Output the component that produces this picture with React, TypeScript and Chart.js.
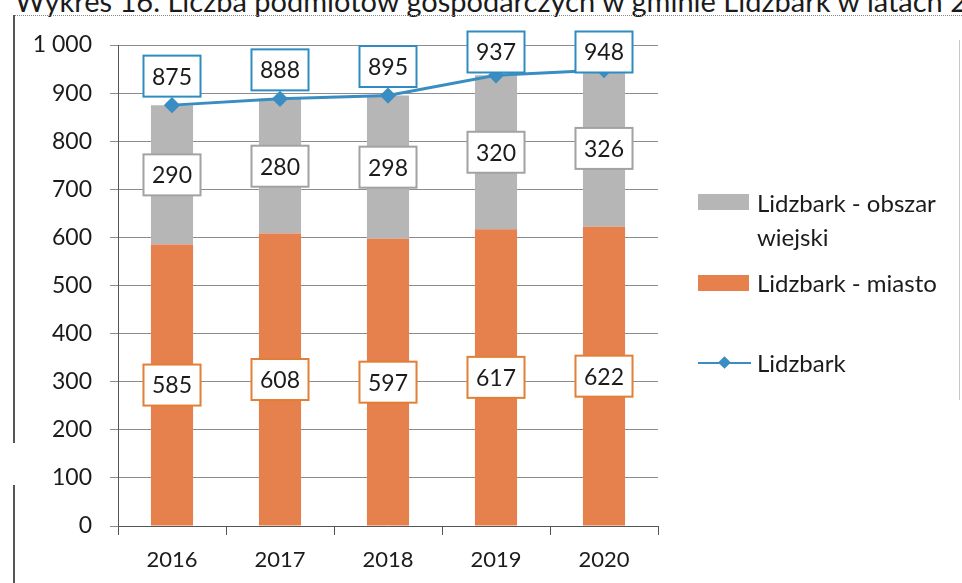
import React, { useEffect, useRef } from 'react';
import { Chart, registerables } from 'chart.js';

Chart.register(...registerables);

const years = ['2016', '2017', '2018', '2019', '2020'];
const miasto = [585, 608, 597, 617, 622];
const wiejski = [290, 280, 298, 320, 326];
const total = [875, 888, 895, 937, 948];

const nameWiejski = 'Lidzbark - obszar wiejski';
const nameMiasto = 'Lidzbark - miasto';
const nameTotal = 'Lidzbark';
const titleText = 'Wykres 16. Liczba podmiotów gospodarczych w gminie Lidzbark w latach 2016-2020';

const ORANGE = '#E6804C';
const GRAY = '#B6B6B6';
const BLUE = '#3A8DC2';
const FONT = 'Lato, "Open Sans", sans-serif';

const fmt = (v: number) => {
  const s = String(Math.round(v));
  return s.replace(/\B(?=(\d{3})+(?!\d))/g, ' ');
};

const boxLabels = {
  id: 'boxLabels',
  afterDatasetsDraw(chart: any) {
    const ctx = chart.ctx;
    ctx.save();
    ctx.font = `23px ${FONT}`;
    ctx.textAlign = 'center';
    ctx.textBaseline = 'middle';
    chart.data.datasets.forEach((ds: any, di: number) => {
      const meta = chart.getDatasetMeta(di);
      meta.data.forEach((el: any, i: number) => {
        const text = fmt(ds.data[i]);
        const cx = el.x;
        let cy: number;
        if (meta.type === 'bar') cy = (el.y + el.base) / 2;
        else cy = Math.max(el.y - 29, chart.chartArea.top + 7);
        const w = ctx.measureText(text).width + 17;
        const h = 41;
        ctx.fillStyle = '#ffffff';
        ctx.fillRect(cx - w / 2, cy - h / 2, w, h);
        ctx.strokeStyle = ds.labelBorder;
        ctx.lineWidth = 2;
        ctx.strokeRect(cx - w / 2, cy - h / 2, w, h);
        ctx.fillStyle = '#1b1b1b';
        ctx.fillText(text, cx, cy + 1);
      });
    });
    ctx.restore();
  },
};

export default function App() {
  const ref = useRef<HTMLCanvasElement | null>(null);

  useEffect(() => {
    if (!ref.current) return;
    const chart = new Chart(ref.current, {
      type: 'bar',
      data: {
        labels: years,
        datasets: [
          {
            type: 'line',
            label: nameTotal,
            data: total,
            borderColor: BLUE,
            backgroundColor: BLUE,
            borderWidth: 3,
            pointStyle: 'rectRot',
            pointRadius: 6,
            pointBackgroundColor: BLUE,
            pointBorderColor: BLUE,
            stack: 'line',
            order: 0,
            labelBorder: '#2F8BC0',
          } as any,
          {
            type: 'bar',
            label: nameMiasto,
            data: miasto,
            backgroundColor: ORANGE,
            stack: 'bars',
            order: 1,
            barPercentage: 0.39,
            categoryPercentage: 1,
            labelBorder: '#E27F37',
          } as any,
          {
            type: 'bar',
            label: nameWiejski,
            data: wiejski,
            backgroundColor: GRAY,
            stack: 'bars',
            order: 1,
            barPercentage: 0.39,
            categoryPercentage: 1,
            labelBorder: '#A2A2A2',
          } as any,
        ],
      },
      options: {
        animation: false,
        responsive: false,
        devicePixelRatio: 1,
        layout: { padding: { left: 0, top: 45, right: 304, bottom: 0 } },
        plugins: { legend: { display: false }, tooltip: { enabled: false }, title: { display: false } },
        scales: {
          x: {
            stacked: true,
            offset: true,
            grid: { display: true, drawOnChartArea: false, tickLength: 9, color: '#555', offset: true },
            border: { color: '#555', width: 1 },
            ticks: { padding: 12, color: '#1b1b1b', font: { family: FONT, size: 22 } },
            afterFit: (s: any) => { s.height = 57; },
          },
          y: {
            stacked: true,
            min: 0,
            max: 1000,
            grid: { color: '#8c8c8c', tickLength: 8, lineWidth: 1 },
            border: { color: '#555', width: 1 },
            ticks: {
              stepSize: 100,
              padding: 18,
              color: '#1b1b1b',
              font: { family: FONT, size: 23 },
              callback: (v: any) => fmt(Number(v)),
            },
            afterFit: (s: any) => { s.width = 118; },
          },
        },
      } as any,
      plugins: [boxLabels],
    });
    return () => chart.destroy();
  }, []);

  const legendText: React.CSSProperties = {
    position: 'absolute',
    left: 757,
    width: 200,
    fontFamily: FONT,
    fontSize: 24,
    lineHeight: '34px',
    color: '#1b1b1b',
  };

  return (
    <div style={{ position: 'relative', width: 962, height: 583, overflow: 'hidden', background: '#fff' }}>
      <style>{`body{margin:0}`}</style>
      <div
        style={{
          position: 'absolute',
          left: 15,
          top: -14,
          whiteSpace: 'nowrap',
          fontFamily: FONT,
          fontSize: 29,
          lineHeight: '29px',
          color: '#1b1b1b',
        }}
      >
        {titleText}
      </div>
      <div style={{ position: 'absolute', left: 13, top: 15, width: 949, borderTop: '1px dotted #888' }} />
      <div style={{ position: 'absolute', left: 13, top: 15, width: 0, height: 428, borderLeft: '2px solid #555' }} />
      <div style={{ position: 'absolute', left: 13, top: 485, width: 0, height: 98, borderLeft: '2px solid #555' }} />
      <div style={{ position: 'absolute', left: 959, top: 40, width: 0, height: 360, borderLeft: '1px solid #c8c8c8' }} />
      <canvas ref={ref} width={962} height={583} style={{ position: 'absolute', left: 0, top: 0, width: 962, height: 583 }} />
      {/* legend */}
      <div style={{ position: 'absolute', left: 698, top: 194, width: 51, height: 16, background: GRAY }} />
      <div style={{ ...legendText, top: 186 }}>{nameWiejski}</div>
      <div style={{ position: 'absolute', left: 698, top: 275, width: 51, height: 16, background: ORANGE }} />
      <div style={{ ...legendText, top: 266 }}>{nameMiasto}</div>
      <div style={{ position: 'absolute', left: 698, top: 362, width: 53, height: 2, background: BLUE }} />
      <div
        style={{
          position: 'absolute',
          left: 720,
          top: 358,
          width: 9,
          height: 9,
          background: BLUE,
          transform: 'rotate(45deg)',
        }}
      />
      <div style={{ ...legendText, top: 346 }}>{nameTotal}</div>
    </div>
  );
}
